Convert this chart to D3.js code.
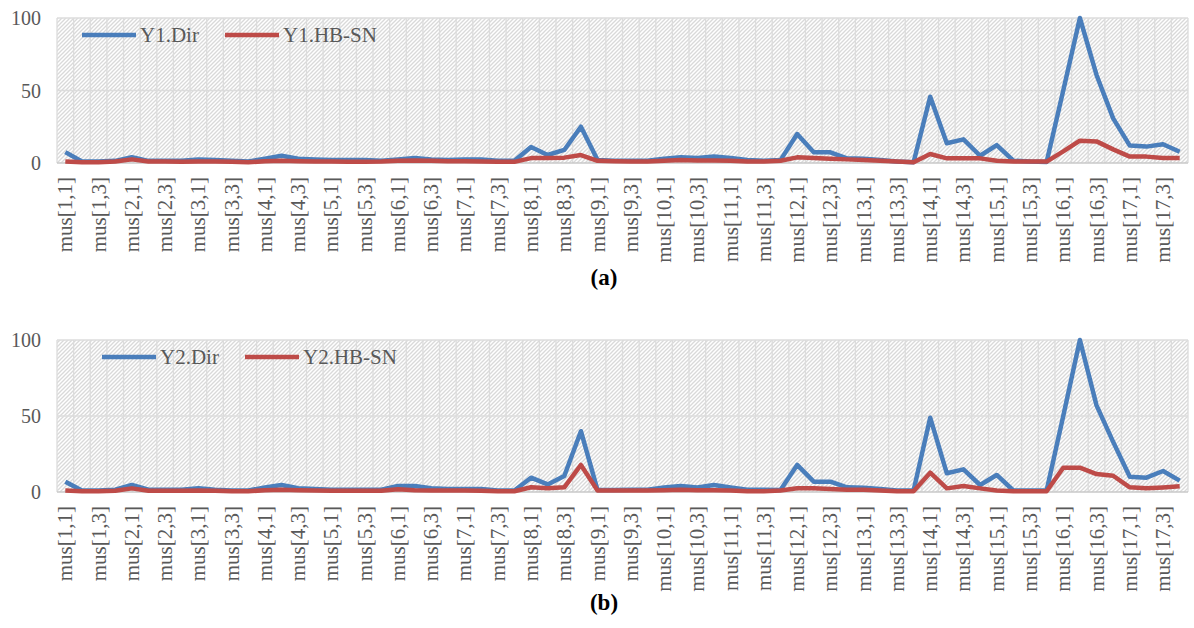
<!DOCTYPE html>
<html lang="en">
<head>
  <meta charset="UTF-8">
  <title>Y1 / Y2 mus comparison</title>
  <script src="https://d3js.org/d3.v7.min.js"></script>
  <style>
    html, body { margin: 0; padding: 0; background: #fff; }
    svg { display: block; }
    .tick-label { font-family: "Liberation Serif", "Times New Roman", serif; fill: #595959; }
    .legend text { font-family: "Liberation Serif", "Times New Roman", serif; fill: #595959; font-size: 21px; }
    .caption { font-family: "Liberation Serif", "Times New Roman", serif; font-weight: bold; font-size: 23px; fill: #000; }
  </style>
</head>
<body>
<svg id="chart" width="1194" height="628"></svg>
<script>
// categories mus[i,j], i = 1..17, j = 1..4
const groups = d3.range(1, 18);
const subs = [1, 2, 3, 4];
const categories = groups.flatMap(i => subs.map(j => `mus[${i},${j}]`));

const yTicks = [0, 50, 100];

// panel (a)
const y1Dir = [7.5, 1, 1, 1.5, 4, 1.5, 1.5, 1.5, 2.5, 2, 1.5, 1,
  3, 5, 3, 2.5, 2, 2, 2, 1.5, 2.5, 3.5, 2.5, 2,
  2.5, 2.5, 1.5, 1.5, 11, 5.5, 9, 25, 2, 1.5, 1.5, 1.5,
  3, 4, 3.5, 4.5, 3.5, 2, 1.5, 2, 20, 7.4, 7.4, 3.2,
  3, 2, 1, 0.5, 45.7, 13.6, 16.3, 5, 12.4, 1.6, 1, 0.7,
  50, 100, 60.7, 30.8, 12, 11.3, 12.9, 7.8];
const y1HbSn = [1, 0.5, 0.5, 1, 2.5, 1, 1, 0.8, 1, 1, 0.8, 0.5,
  1.2, 1.5, 1.2, 1, 1, 0.8, 0.8, 1, 1.5, 1.8, 1.5, 1.2,
  1.2, 1, 0.8, 0.8, 3.4, 3.4, 3.7, 5.5, 1.5, 1.2, 1, 1,
  1.5, 2, 1.8, 1.8, 1.5, 1, 1, 1.5, 3.9, 3.5, 3, 2.5,
  2, 1.5, 1, 0.5, 6.2, 3.2, 3.2, 3.2, 1.5, 1, 1, 1,
  8, 15.4, 14.9, 9.4, 4.4, 4.4, 3.4, 3.4];

// panel (b)
const y2Dir = [6.8, 1, 1, 1.5, 4.6, 1.5, 1.5, 1.5, 2.5, 1.5, 1, 1,
  3, 4.6, 2.5, 2, 1.5, 1.5, 1.5, 1.5, 4, 4, 2.5, 2,
  2, 2, 1, 1, 9.4, 5, 10.5, 40, 1.3, 1.3, 1.5, 1.5,
  3, 4, 3, 4.6, 3, 1.5, 1.5, 1.3, 17.8, 6.8, 6.8, 3.1,
  2.8, 2, 1, 1, 48.9, 12.3, 14.9, 4.6, 11.2, 1, 1, 1,
  50, 100, 57, 33, 10, 9.4, 13.8, 7.5];
const y2HbSn = [1, 0.5, 0.5, 0.8, 2.4, 0.8, 0.8, 0.8, 1, 0.8, 0.5, 0.5,
  1.2, 1.5, 1.2, 1, 0.8, 0.8, 0.8, 0.8, 1.8, 1.2, 1, 1,
  1, 0.8, 0.5, 0.5, 3.1, 2.4, 3.1, 17.8, 1, 1, 1, 1,
  1.2, 1.5, 1.2, 1.2, 1, 0.5, 0.5, 1, 2.4, 2.4, 2, 1.5,
  1.5, 1, 0.5, 0.5, 12.7, 2.4, 4, 2.4, 1, 0.5, 0.5, 0.5,
  16, 16, 11.8, 10.7, 3.1, 2.4, 3, 3.8];

const colors = { dir: "#4a7ebb", hb: "#be4b48" };

const svg = d3.select("#chart");

// hatched plot-area fill
const defs = svg.append("defs");
const pat = defs.append("pattern")
  .attr("id", "hatch")
  .attr("patternUnits", "userSpaceOnUse")
  .attr("width", 4).attr("height", 4);
pat.append("rect").attr("width", 4).attr("height", 4).attr("fill", "#ffffff");
pat.append("path")
  .attr("d", "M0,4 L4,0 M-1,1 L1,-1 M3,5 L5,3")
  .attr("stroke", "#d9d9d9").attr("stroke-width", 1.3);

const x = d3.scaleBand().domain(categories).range([57, 1188]).padding(0);
const cx = d => x(d) + x.bandwidth() / 2;

function drawPanel(cfg) {
  const y = d3.scaleLinear().domain([0, 100]).range([cfg.bottom, cfg.top]);
  const g = svg.append("g");

  g.append("rect")
    .attr("x", x.range()[0]).attr("y", cfg.top)
    .attr("width", x.range()[1] - x.range()[0])
    .attr("height", cfg.bottom - cfg.top)
    .attr("fill", "url(#hatch)");

  // vertical gridlines at category boundaries
  const bounds = categories.map(c => x(c)).concat([x.range()[1]]);
  g.selectAll(".vgrid").data(bounds).join("line")
    .attr("x1", d => d).attr("x2", d => d)
    .attr("y1", cfg.top).attr("y2", cfg.bottom)
    .attr("stroke", "#dcdcdc").attr("stroke-width", 1.3);

  // horizontal gridlines
  g.selectAll(".hgrid").data(yTicks).join("line")
    .attr("x1", x.range()[0]).attr("x2", x.range()[1])
    .attr("y1", d => y(d)).attr("y2", d => y(d))
    .attr("stroke", d => d === 0 ? "#c8c8c8" : "#dcdcdc")
    .attr("stroke-width", 1.5);

  // y tick labels
  g.selectAll(".ylab").data(yTicks).join("text")
    .attr("class", "tick-label")
    .attr("x", 41).attr("y", d => y(d))
    .attr("dy", "0.35em")
    .attr("text-anchor", "end")
    .style("font-size", "20px")
    .text(d => d);

  // x tick labels: every other category, rotated
  const shown = categories.filter((c, i) => i % 2 === 0);
  g.selectAll(".xlab").data(shown).join("text")
    .attr("class", "tick-label")
    .attr("transform", d => `translate(${cx(d) + 7},${cfg.bottom + 14}) rotate(-90)`)
    .attr("text-anchor", "end")
    .style("font-size", "21px")
    .text(d => d);

  const line = d3.line()
    .x((v, i) => cx(categories[i]))
    .y(v => y(v));

  cfg.series.forEach(s => {
    g.append("path")
      .datum(s.values)
      .attr("fill", "none")
      .attr("stroke", s.color)
      .attr("stroke-width", 4.5)
      .attr("stroke-linejoin", "round")
      .attr("d", line);
  });

  // legend
  const lg = g.append("g").attr("class", "legend");
  cfg.series.forEach((s, k) => {
    const lx = cfg.legendX[k];
    lg.append("line")
      .attr("x1", lx).attr("x2", lx + 54)
      .attr("y1", cfg.legendY).attr("y2", cfg.legendY)
      .attr("stroke", s.color).attr("stroke-width", 4.5);
    lg.append("text")
      .attr("x", lx + 58).attr("y", cfg.legendY)
      .attr("dy", "0.35em")
      .text(s.name);
  });

  svg.append("text")
    .attr("class", "caption")
    .attr("x", 604).attr("y", cfg.captionY)
    .attr("text-anchor", "middle")
    .text(cfg.caption);
}

drawPanel({
  top: 18, bottom: 163,
  series: [
    { name: "Y1.Dir", values: y1Dir, color: colors.dir },
    { name: "Y1.HB-SN", values: y1HbSn, color: colors.hb }
  ],
  legendX: [82, 225], legendY: 35,
  caption: "(a)", captionY: 285
});

drawPanel({
  top: 340, bottom: 492,
  series: [
    { name: "Y2.Dir", values: y2Dir, color: colors.dir },
    { name: "Y2.HB-SN", values: y2HbSn, color: colors.hb }
  ],
  legendX: [102, 245], legendY: 357,
  caption: "(b)", captionY: 610
});
</script>
</body>
</html>
